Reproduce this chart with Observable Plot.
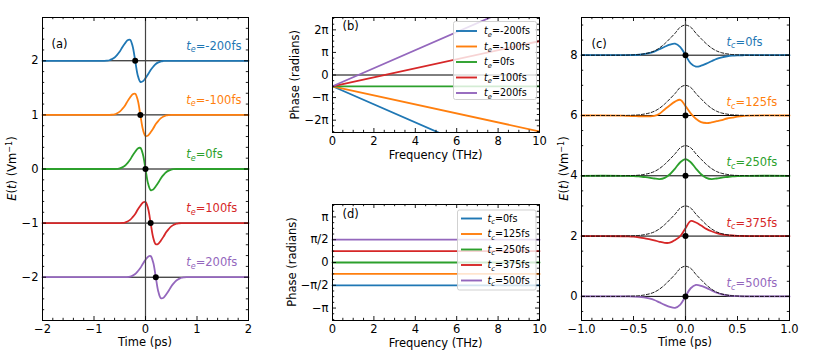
<!DOCTYPE html>
<html>
<head>
<meta charset="utf-8">
<script src="https://cdn.jsdelivr.net/npm/d3@7"></script>
<script src="https://cdn.jsdelivr.net/npm/@observablehq/plot@0.6"></script>
<style>
html,body{margin:0;padding:0;background:#fff;}
#fig{position:relative;width:830px;height:356px;overflow:hidden;background:#fff;}
</style>
</head>
<body>
<div id="fig"></div>
<script>
const COLORS = ["#1f77b4","#ff7f0e","#2ca02c","#d62728","#9467bd"];
const FONT = "DejaVu Sans, sans-serif";

// ---------------- Panel (a): pulses shifted by t_e ----------------
const teValues = [-0.2, -0.1, 0, 0.1, 0.2];           // ps
const teNames  = ["=-200fs", "=-100fs", "=0fs", "=100fs", "=200fs"];
const aOffsets = [2, 1, 0, -1, -2];
const tA = [-2,-0.8,-0.75,-0.7,-0.65,-0.6,-0.55,-0.5,-0.45,-0.4,-0.35,-0.3,-0.25,-0.2,-0.15,-0.1,-0.05,0,0.05,0.1,0.15,0.2,0.25,0.3,0.35,0.4,0.45,0.5,0.55,0.6,0.65,0.7,0.75,0.8,2];
const aBlue   = [0,0,0.003,0.01,0.03,0.06,0.11,0.17,0.25,0.32,0.38,0.39,0.27,0,-0.27,-0.39,-0.38,-0.32,-0.25,-0.17,-0.11,-0.06,-0.03,-0.01,-0.003,0,0,0,0,0,0,0,0,0,0];
const aOrange = [0,0,0,0,0.003,0.01,0.03,0.06,0.11,0.17,0.25,0.32,0.38,0.39,0.27,0,-0.27,-0.39,-0.38,-0.32,-0.25,-0.17,-0.11,-0.06,-0.03,-0.01,-0.003,0,0,0,0,0,0,0,0];
const aGreen  = [0,0,0,0,0,0,0.003,0.01,0.03,0.06,0.11,0.17,0.25,0.32,0.38,0.39,0.27,0,-0.27,-0.39,-0.38,-0.32,-0.25,-0.17,-0.11,-0.06,-0.03,-0.01,-0.003,0,0,0,0,0,0];
const aRed    = [0,0,0,0,0,0,0,0,0.003,0.01,0.03,0.06,0.11,0.17,0.25,0.32,0.38,0.39,0.27,0,-0.27,-0.39,-0.38,-0.32,-0.25,-0.17,-0.11,-0.06,-0.03,-0.01,-0.003,0,0,0,0];
const aPurple = [0,0,0,0,0,0,0,0,0,0,0.003,0.01,0.03,0.06,0.11,0.17,0.25,0.32,0.38,0.39,0.27,0,-0.27,-0.39,-0.38,-0.32,-0.25,-0.17,-0.11,-0.06,-0.03,-0.01,-0.003,0,0];
const aSeries = [aBlue, aOrange, aGreen, aRed, aPurple];
const aXTicks = [-2,-1,0,1,2], aXTickLabels = ["−2","−1","0","1","2"];
const aYTicks = [-2,-1,0,1,2], aYTickLabels = ["−2","−1","0","1","2"];

// ---------------- Panel (b): spectral phase for t_e ----------------
const fB = [0, 10];                                   // THz
const bPhaseStart = [-0.5, -0.5, -0.5, -0.5, -0.5];   // units of pi
const bPhaseEnd   = [-4.5, -2.5, -0.5, 1.5, 3.5];     // units of pi at 10 THz
const bXTicks = [0,2,4,6,8,10], bXTickLabels = ["0","2","4","6","8","10"];
const bYTicks = [-2,-1,0,1,2], bYTickLabels = ["−2π","−π","0","π","2π"];

// ---------------- Panel (c): carrier-envelope phase pulses ----------------
const tcNames  = ["=0fs", "=125fs", "=250fs", "=375fs", "=500fs"];
const cOffsets = [8, 6, 4, 2, 0];
const tC = [-1,-0.6,-0.55,-0.5,-0.45,-0.4,-0.35,-0.3,-0.25,-0.2,-0.15,-0.1,-0.05,0,0.05,0.1,0.15,0.2,0.25,0.3,0.35,0.4,0.45,0.5,0.55,0.6,1];
const cEnvelope = [0,0,0.004,0.01,0.02,0.045,0.08,0.14,0.24,0.38,0.55,0.73,0.93,1,0.93,0.73,0.55,0.38,0.24,0.14,0.08,0.045,0.02,0.01,0.004,0,0];
const cBlue   = [0,0,0.002,0.006,0.015,0.035,0.07,0.12,0.2,0.28,0.35,0.38,0.27,0,-0.27,-0.38,-0.35,-0.28,-0.2,-0.12,-0.07,-0.035,-0.015,-0.006,-0.002,0,0];
const cOrange = [0,-0.005,-0.015,-0.02,-0.025,-0.03,-0.03,-0.015,0.06,0.2,0.34,0.46,0.52,0.31,0.07,-0.11,-0.22,-0.25,-0.23,-0.19,-0.15,-0.1,-0.07,-0.04,-0.02,-0.005,0];
const cGreen  = [0,0,-0.005,-0.01,-0.02,-0.04,-0.06,-0.09,-0.11,-0.07,0.05,0.24,0.45,0.55,0.45,0.24,0.05,-0.07,-0.11,-0.09,-0.06,-0.04,-0.02,-0.01,-0.005,0,0];
const cRed    = [0,-0.005,-0.01,-0.02,-0.04,-0.065,-0.1,-0.14,-0.19,-0.225,-0.22,-0.13,0,0.26,0.5,0.45,0.35,0.24,0.16,0.1,0.06,0.035,0.02,0.01,0.004,0,0];
const cPurple = [0,0,-0.002,-0.006,-0.015,-0.035,-0.07,-0.12,-0.2,-0.28,-0.35,-0.38,-0.27,0,0.27,0.38,0.35,0.28,0.2,0.12,0.07,0.035,0.015,0.006,0.002,0,0];
const cSeries = [cBlue, cOrange, cGreen, cRed, cPurple];
const cXTicks = [-1,-0.5,0,0.5,1], cXTickLabels = ["−1.0","−0.5","0.0","0.5","1.0"];
const cYTicks = [0,2,4,6,8], cYTickLabels = ["0","2","4","6","8"];

// ---------------- Panel (d): constant phase for t_c ----------------
const fD = [0, 10];
const dPhase = [-0.5, -0.25, 0, 0.25, 0.5];          // units of pi
const dXTicks = [0,2,4,6,8,10], dXTickLabels = ["0","2","4","6","8","10"];
const dYTicks = [-1,-0.5,0,0.5,1], dYTickLabels = ["−π","−π/2","0","π/2","π"];

// ---------------- helpers ----------------
function minorTicks(domain, step, major) {
  const out = [];
  const n0 = Math.ceil(domain[0] / step - 1e-9), n1 = Math.floor(domain[1] / step + 1e-9);
  for (let k = n0; k <= n1; k++) {
    const v = k * step;
    if (!major.some(m => Math.abs(m - v) < 1e-9)) out.push(v);
  }
  return out;
}

function buildPanel(p) {
  const fw = p.width - p.ml - p.mr, fh = p.height - p.mt - p.mb;
  const xLab = new Map(p.xTicks.map((d, i) => [d, p.xTickLabels[i]]));
  const yLab = new Map(p.yTicks.map((d, i) => [d, p.yTickLabels[i]]));
  const xMinor = minorTicks(p.xDomain, p.xMinorStep, p.xTicks);
  const yMinor = minorTicks(p.yDomain, p.yMinorStep, p.yTicks);
  const tk = {stroke: "black", strokeWidth: 0.9};
  const marks = [
    ...p.marks,
    Plot.frame({stroke: "black", strokeWidth: 1}),
    Plot.tickX(p.xTicks, {x: d => d, insetTop: fh - 4, ...tk}),
    Plot.tickX(p.xTicks, {x: d => d, insetBottom: fh - 4, ...tk}),
    Plot.tickX(xMinor, {x: d => d, insetTop: fh - 2.2, ...tk}),
    Plot.tickX(xMinor, {x: d => d, insetBottom: fh - 2.2, ...tk}),
    Plot.tickY(p.yTicks, {y: d => d, insetRight: fw - 4, ...tk}),
    Plot.tickY(p.yTicks, {y: d => d, insetLeft: fw - 4, ...tk}),
    Plot.tickY(yMinor, {y: d => d, insetRight: fw - 2.2, ...tk}),
    Plot.tickY(yMinor, {y: d => d, insetLeft: fw - 2.2, ...tk}),
    Plot.text(p.xTicks, {x: d => d, frameAnchor: "bottom", dy: 8.5, text: d => xLab.get(d), fontSize: 11.5, fill: "black", lineAnchor: "middle"}),
    Plot.text(p.yTicks, {y: d => d, frameAnchor: "left", dx: -4, textAnchor: "end", text: d => yLab.get(d), fontSize: 11.5, fill: "black", lineAnchor: "middle"})
  ];
  const svg = Plot.plot({
    width: p.width, height: p.height,
    marginTop: p.mt, marginRight: p.mr, marginBottom: p.mb, marginLeft: p.ml,
    x: {domain: p.xDomain, axis: null},
    y: {domain: p.yDomain, axis: null},
    style: {position: "absolute", left: p.left + "px", top: p.top + "px", background: "transparent",
            overflow: "visible", fontFamily: FONT, fontSize: "11.5px", maxWidth: "none", color: "black"},
    marks
  });
  document.getElementById("fig").appendChild(svg);
  const g = d3.select(svg).append("g").attr("font-family", FONT).attr("text-anchor", "start");
  return {svg, g, p, sx: svg.scale("x"), sy: svg.scale("y")};
}

function plainText(P, fx, fy, txt, size, anchor = "middle") {
  P.g.append("text").attr("x", fx - P.p.left).attr("y", fy - P.p.top).attr("dy", "0.36em")
    .attr("font-size", size).attr("text-anchor", anchor).attr("fill", "black").text(txt);
}

function subLabel(parent, x, y, sub, rest, color, size) {
  const t = parent.append("text").attr("x", x).attr("y", y).attr("dy", "0.36em").attr("text-anchor", "start")
    .attr("fill", color).attr("font-size", size).attr("font-family", FONT);
  t.append("tspan").attr("font-style", "italic").text("t");
  t.append("tspan").attr("font-style", "italic").attr("font-size", size * 0.7).attr("dy", size * 0.22).text(sub);
  t.append("tspan").attr("dy", -size * 0.22).text(rest);
}

function eLabel(P, fx, fy, size) {
  const t = P.g.append("text").attr("transform", `translate(${fx - P.p.left},${fy - P.p.top}) rotate(-90)`)
    .attr("dy", "0.36em").attr("text-anchor", "middle").attr("font-size", size).attr("fill", "black");
  t.append("tspan").attr("font-style", "italic").text("E");
  t.append("tspan").text("(");
  t.append("tspan").attr("font-style", "italic").text("t");
  t.append("tspan").text(") (Vm");
  t.append("tspan").attr("font-size", size * 0.7).attr("dy", -size * 0.4).text("−1");
  t.append("tspan").attr("dy", size * 0.4).text(")");
}

function yText(P, fx, fy, txt, size) {
  P.g.append("text").attr("transform", `translate(${fx - P.p.left},${fy - P.p.top}) rotate(-90)`)
    .attr("dy", "0.36em").attr("text-anchor", "middle").attr("font-size", size).attr("fill", "black").text(txt);
}

function legend(P, box, entries, sub) {
  const L = P.g.append("g");
  L.append("rect").attr("x", box.x - P.p.left).attr("y", box.y - P.p.top).attr("width", box.w).attr("height", box.h)
    .attr("rx", 2).attr("fill", "white").attr("fill-opacity", 0.8).attr("stroke", "#cccccc").attr("stroke-width", 0.9);
  entries.forEach((name, i) => {
    const y = box.y0 + i * box.dy - P.p.top;
    L.append("line").attr("x1", box.lx0 - P.p.left).attr("x2", box.lx1 - P.p.left).attr("y1", y).attr("y2", y)
      .attr("stroke", COLORS[i]).attr("stroke-width", 1.9);
    subLabel(L, box.tx - P.p.left, y, sub, name, "black", 9.6);
  });
}

// ---------------- Panel (a) ----------------
const aData = aSeries.map((vals, k) => tA.map((t, i) => ({t, v: aOffsets[k] + vals[i]})));
const A = buildPanel({
  left: 0, top: 0, width: 262, height: 356, mt: 17, mr: 14, mb: 36, ml: 42,
  xDomain: [-2, 2], yDomain: [-2.8, 2.8], xMinorStep: 0.2, yMinorStep: 0.2,
  xTicks: aXTicks, xTickLabels: aXTickLabels, yTicks: aYTicks, yTickLabels: aYTickLabels,
  marks: [
    Plot.ruleY(aOffsets, {y: d => d, stroke: "black", strokeWidth: 1}),
    ...aData.map((d, k) => Plot.line(d, {x: "t", y: "v", stroke: COLORS[k], strokeWidth: 1.8, curve: "catmull-rom"})),
    Plot.ruleX([0], {x: d => d, stroke: "#444", strokeWidth: 1.2}),
    Plot.dot(teValues.map((t, k) => ({t, v: aOffsets[k]})), {x: "t", y: "v", r: 3, fill: "black"})
  ]
});
teNames.forEach((n, k) => subLabel(A.g, A.sx.apply(0.8), A.sy.apply(aOffsets[k] + 0.27), "e", n, COLORS[k], 11.5));
plainText(A, 51.5, 43.5, "(a)", 11.5, "start");
plainText(A, 145, 341.5, "Time (ps)", 11.5);
eLabel(A, 12, 168.5, 11.5);

// ---------------- Panel (b) ----------------
const B = buildPanel({
  left: 272, top: 0, width: 272, height: 180, mt: 17, mr: 5, mb: 48, ml: 60,
  xDomain: [0, 10], yDomain: [-8 / Math.PI, 8 / Math.PI], xMinorStep: 0.5, yMinorStep: 0.25,
  xTicks: bXTicks, xTickLabels: bXTickLabels, yTicks: bYTicks, yTickLabels: bYTickLabels,
  marks: [
    Plot.ruleY([0], {y: d => d, stroke: "black", strokeWidth: 1}),
    ...bPhaseStart.map((s, k) => Plot.line([{f: fB[0], v: s}, {f: fB[1], v: bPhaseEnd[k]}],
      {x: "f", y: "v", stroke: COLORS[k], strokeWidth: 1.8, clip: true}))
  ]
});
plainText(B, 342.5, 25.5, "(b)", 11.5, "start");
plainText(B, 435.5, 155, "Frequency (THz)", 11.5);
yText(B, 295, 74.8, "Phase (radians)", 11.5);
legend(B, {x: 453.5, y: 21.5, w: 83, h: 78, y0: 31, dy: 15.5, lx0: 456, lx1: 477, tx: 484}, teNames, "e");

// ---------------- Panel (d) ----------------
const D = buildPanel({
  left: 272, top: 180, width: 272, height: 176, mt: 24, mr: 5, mb: 36, ml: 60,
  xDomain: [0, 10], yDomain: [-4 / Math.PI, 4 / Math.PI], xMinorStep: 0.5, yMinorStep: 0.125,
  xTicks: dXTicks, xTickLabels: dXTickLabels, yTicks: dYTicks, yTickLabels: dYTickLabels,
  marks: [
    ...dPhase.map((v, k) => Plot.line([{f: fD[0], v}, {f: fD[1], v}],
      {x: "f", y: "v", stroke: COLORS[k], strokeWidth: 1.8}))
  ]
});
plainText(D, 342.5, 213.5, "(d)", 11.5, "start");
plainText(D, 435.5, 342.5, "Frequency (THz)", 11.5);
yText(D, 291.5, 262, "Phase (radians)", 11.5);
legend(D, {x: 457.5, y: 210, w: 78.5, h: 80, y0: 218.5, dy: 15.5, lx0: 461, lx1: 482, tx: 487.5}, tcNames, "c");

// ---------------- Panel (c) ----------------
const cData = cSeries.map((vals, k) => tC.map((t, i) => ({t, v: cOffsets[k] + vals[i]})));
const cEnv = cOffsets.map(o => tC.map((t, i) => ({t, v: o + cEnvelope[i]})));
const C = buildPanel({
  left: 556, top: 0, width: 274, height: 356, mt: 17, mr: 41, mb: 36, ml: 25,
  xDomain: [-1, 1], yDomain: [-0.8, 9.25], xMinorStep: 0.1, yMinorStep: 0.5,
  xTicks: cXTicks, xTickLabels: cXTickLabels, yTicks: cYTicks, yTickLabels: cYTickLabels,
  marks: [
    Plot.ruleY(cOffsets, {y: d => d, stroke: "black", strokeWidth: 1}),
    ...cData.map((d, k) => Plot.line(d, {x: "t", y: "v", stroke: COLORS[k], strokeWidth: 1.8, curve: "catmull-rom"})),
    ...cEnv.map(d => Plot.line(d, {x: "t", y: "v", stroke: "black", strokeWidth: 0.9, strokeDasharray: "3,2", curve: "catmull-rom"})),
    Plot.ruleX([0], {x: d => d, stroke: "#444", strokeWidth: 1.2}),
    Plot.dot(cOffsets.map(o => ({t: 0, v: o})), {x: "t", y: "v", r: 3, fill: "black"})
  ]
});
tcNames.forEach((n, k) => subLabel(C.g, C.sx.apply(0.4), C.sy.apply(cOffsets[k] + 0.43), "c", n, COLORS[k], 11.5));
plainText(C, 591.5, 43.5, "(c)", 11.5, "start");
plainText(C, 685, 341.5, "Time (ps)", 11.5);
eLabel(C, 564, 168.5, 11.5);
</script>
</body>
</html>
